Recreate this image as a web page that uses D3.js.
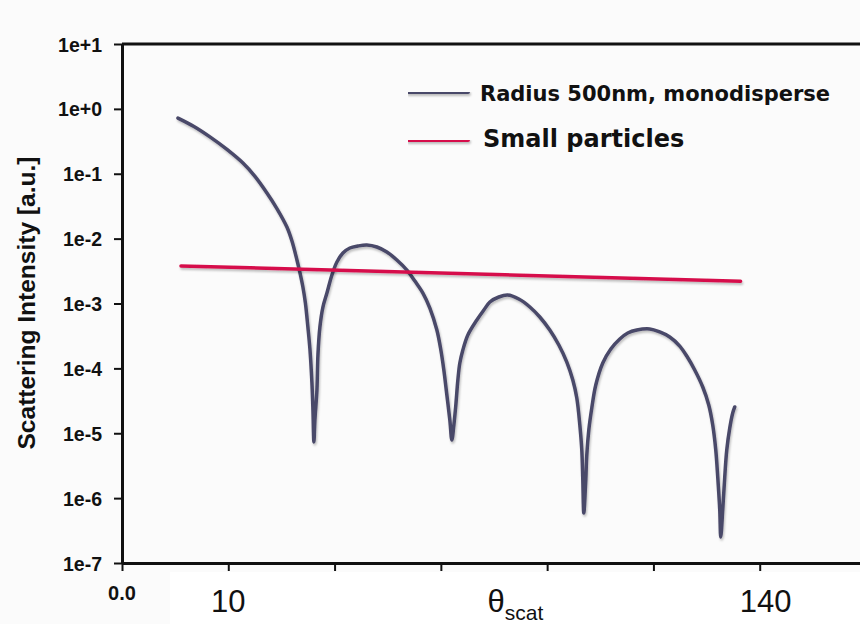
<!DOCTYPE html>
<html>
<head>
<meta charset="utf-8">
<script src="https://cdn.jsdelivr.net/npm/d3@7"></script>
<style>
  html, body { margin: 0; padding: 0; background: #fbfbfb; }
  svg { display: block; }
</style>
</head>
<body>
<svg id="chart" width="860" height="624"></svg>
<script>
// Scattering angle (degrees along the axis) and intensity for a 500 nm monodisperse sphere
const monoTheta = [10.53, 13.54, 16.55, 19.75, 22.76, 25.02, 27.27, 29.15, 31.03, 31.98,
  32.92, 33.48, 34.04, 34.51, 34.98, 35.36, 35.74, 35.93, 36.11, 36.30,
  36.68, 36.87, 37.24, 37.81, 38.56, 39.50, 40.44, 41.57, 42.88, 44.39,
  46.08, 47.96, 49.84, 51.72, 53.61, 55.11, 56.62, 57.93, 59.25, 60.00,
  60.56, 61.13, 61.69, 62.07, 62.45, 62.82, 63.20, 63.57, 64.14, 65.08,
  66.77, 68.09, 69.22, 70.91, 72.60, 74.67, 76.75, 78.62, 80.50, 82.20,
  83.70, 84.83, 85.58, 86.15, 86.52, 86.71, 86.90, 87.27, 87.46, 87.84,
  88.40, 89.15, 90.47, 91.98, 93.67, 95.17, 96.87, 99.31, 101.19, 103.07,
  104.95, 106.27, 107.77, 109.28, 110.41, 111.16, 111.73, 112.10, 112.48, 112.67,
  113.04, 113.42, 113.80, 114.36, 114.92, 115.30];
const monoIntensity = [7.2e-1, 5.35e-1, 3.7e-1, 2.37e-1, 1.46e-1, 9.1e-2, 5.05e-2, 2.91e-2, 1.51e-2, 9.19e-3,
  4.69e-3, 3.0e-3, 1.8e-3, 1.02e-3, 4.34e-4, 1.99e-4, 5.95e-5, 2.28e-5, 7.33e-6, 1.60e-5,
  4.64e-5, 1.61e-4, 4.34e-4, 8.83e-4, 1.45e-3, 2.75e-3, 4.36e-3, 6.01e-3, 7.17e-3, 7.70e-3,
  7.98e-3, 7.43e-3, 6.22e-3, 4.68e-3, 3.28e-3, 2.22e-3, 1.45e-3, 8.52e-4, 3.90e-4, 1.92e-4,
  9.44e-5, 3.89e-5, 1.60e-5, 7.87e-6, 1.34e-5, 2.73e-5, 6.62e-5, 1.21e-4, 1.92e-4, 3.27e-4,
  5.57e-4, 7.94e-4, 1.055e-3, 1.26e-3, 1.35e-3, 1.17e-3, 8.83e-4, 6.19e-4, 3.90e-4, 2.29e-4,
  1.25e-4, 6.62e-5, 3.49e-5, 1.34e-5, 5.52e-6, 1.90e-6, 5.90e-7, 1.90e-6, 4.62e-6, 1.12e-5,
  2.45e-5, 5.54e-5, 1.21e-4, 1.99e-4, 2.84e-4, 3.51e-4, 3.90e-4, 4.05e-4, 3.64e-4, 3.05e-4,
  2.21e-4, 1.55e-4, 9.44e-5, 5.16e-5, 2.73e-5, 1.34e-5, 5.52e-6, 2.12e-6, 6.57e-7, 2.52e-7,
  6.57e-7, 2.12e-6, 5.52e-6, 1.20e-5, 2.05e-5, 2.54e-5];

// Small-particle (Rayleigh-like) scattering: nearly flat over the angle range
const smallTheta = [11.1, 116.4];
const smallIntensity = [3.8e-3, 2.2e-3];

// Axis ticks and their labels
const xTicks = [0, 20, 40, 60, 80, 100, 120];
const xTickLabels = ["0.0", "10", "", "", "", "", "140"];
const yTicks = [1e1, 1e0, 1e-1, 1e-2, 1e-3, 1e-4, 1e-5, 1e-6, 1e-7];
const yTickLabels = ["1e+1", "1e+0", "1e-1", "1e-2", "1e-3", "1e-4", "1e-5", "1e-6", "1e-7"];

const seriesNames = ["Radius 500nm, monodisperse", "Small particles"];
const seriesColors = ["#4a4869", "#d6114c"];

const svg = d3.select("#chart");
const W = 860, H = 624;
const plot = { left: 122, top: 44, bottom: 563, right: 866 };

const x = d3.scaleLinear().domain([0, 140]).range([plot.left, plot.right]);
const y = d3.scaleLog().domain([1e-7, 1e1]).range([plot.bottom, plot.top]);

// Soft drop shadow under the curves (user-space region so flat lines keep it)
const defs = svg.append("defs");
const f = defs.append("filter").attr("id", "shadow")
  .attr("filterUnits", "userSpaceOnUse")
  .attr("x", 0).attr("y", 0).attr("width", W).attr("height", H);
f.append("feDropShadow").attr("dx", 1).attr("dy", 2).attr("stdDeviation", 1.2)
  .attr("flood-color", "#000").attr("flood-opacity", 0.25);

svg.append("rect").attr("width", W).attr("height", H).attr("fill", "#fbfbfb");
svg.append("rect").attr("x", 170).attr("y", 572).attr("width", W - 170).attr("height", H - 572)
  .attr("fill", "#ffffff");

const fontSans = "'Liberation Sans', Arial, sans-serif";

// Y axis
const yAxis = svg.append("g")
  .attr("transform", `translate(${plot.left},0)`)
  .call(d3.axisLeft(y).tickValues(yTicks).tickFormat((d, i) => yTickLabels[i])
    .tickSize(8).tickSizeOuter(0).tickPadding(12));
yAxis.select(".domain").attr("stroke", "#111").attr("stroke-width", 3);
yAxis.selectAll(".tick line").attr("stroke", "#111").attr("stroke-width", 2);
yAxis.selectAll(".tick text")
  .attr("fill", "#111")
  .attr("font-family", fontSans)
  .attr("font-weight", "bold")
  .attr("font-size", 19.5)
  .attr("dy", "0.36em");

// X axis
const xAxis = svg.append("g")
  .attr("transform", `translate(0,${plot.bottom})`)
  .call(d3.axisBottom(x).tickValues(xTicks).tickFormat("").tickSize(8).tickSizeOuter(0));
xAxis.select(".domain").attr("stroke", "#111").attr("stroke-width", 3);
xAxis.selectAll(".tick line").attr("stroke", "#111").attr("stroke-width", 2);

// Top frame line
svg.append("line")
  .attr("x1", x(0)).attr("x2", x(140))
  .attr("y1", y(1e1)).attr("y2", y(1e1))
  .attr("stroke", "#111").attr("stroke-width", 3);

// X tick labels
xTicks.forEach((t, i) => {
  const lab = xTickLabels[i];
  if (!lab) return;
  const first = i === 0;
  const last = i === xTicks.length - 1;
  svg.append("text")
    .attr("x", x(t) + (last ? 6 : 0))
    .attr("y", first ? 600 : 612)
    .attr("text-anchor", "middle")
    .attr("font-family", fontSans)
    .attr("font-weight", first ? "bold" : "normal")
    .attr("font-size", first ? 20 : 31)
    .attr("fill", "#111")
    .text(lab);
});

// X axis title
const xt = svg.append("text")
  .attr("x", x(68.8)).attr("y", 612)
  .attr("font-family", fontSans)
  .attr("fill", "#111");
xt.append("tspan").attr("font-size", 31).text("θ");
xt.append("tspan").attr("font-size", 21).attr("dy", 8).text("scat");

// Y axis title
svg.append("text")
  .attr("transform", "translate(35,303) rotate(-90)")
  .attr("text-anchor", "middle")
  .attr("font-family", fontSans)
  .attr("font-weight", "bold")
  .attr("font-size", 24)
  .attr("textLength", 293)
  .attr("lengthAdjust", "spacingAndGlyphs")
  .attr("fill", "#111")
  .text("Scattering Intensity [a.u.]");

// Curves
const line = d3.line()
  .x(d => x(d[0]))
  .y(d => y(d[1]))
  .curve(d3.curveCatmullRom.alpha(0.5));

const monoData = monoTheta.map((t, i) => [t, monoIntensity[i]]);
const smallData = smallTheta.map((t, i) => [t, smallIntensity[i]]);

svg.append("path")
  .datum(monoData)
  .attr("d", line)
  .attr("fill", "none")
  .attr("stroke", seriesColors[0])
  .attr("stroke-width", 3.5)
  .attr("stroke-linejoin", "round")
  .attr("stroke-linecap", "round")
  .attr("filter", "url(#shadow)");

svg.append("path")
  .datum(smallData)
  .attr("d", line)
  .attr("fill", "none")
  .attr("stroke", seriesColors[1])
  .attr("stroke-width", 3.5)
  .attr("stroke-linecap", "round")
  .attr("filter", "url(#shadow)");

// Legend
const legend = svg.append("g").attr("transform", "translate(408,92)");
const legendRows = [
  { dy: 0, size: 21, textY: 9, textX: 72 },
  { dy: 48, size: 24, textY: 7, textX: 75 }
];
legendRows.forEach((r, i) => {
  const g = legend.append("g").attr("transform", `translate(0,${r.dy})`);
  g.append("line")
    .attr("x1", 0).attr("x2", 60)
    .attr("stroke", seriesColors[i]).attr("stroke-width", 4)
    .attr("stroke-linecap", "round")
    .attr("filter", "url(#shadow)");
  g.append("text")
    .attr("x", r.textX).attr("y", r.textY)
    .attr("font-family", "'DejaVu Sans', Verdana, sans-serif")
    .attr("font-weight", "bold")
    .attr("font-size", r.size)
    .attr("fill", "#111")
    .text(seriesNames[i]);
});
</script>
</body>
</html>
